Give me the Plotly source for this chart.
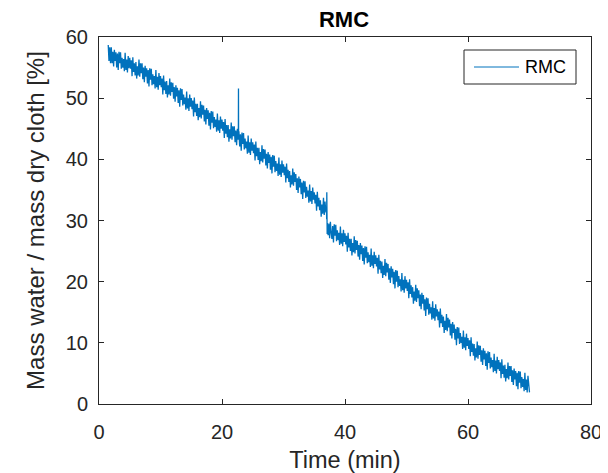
import plotly.graph_objects as go
import pandas as pd

# ---- data ----
t_start = 1.5       # first sample time (min)
t_step = 0.125      # sample spacing (min)

rmc_values = [
    58.7, 56.1, 58.3, 55.7,                            # 1.5
    58.3, 55.7, 57.6, 55.2, 57.9, 56.1, 57.5, 55.0,    # 2
    57.3, 54.6, 57.6, 55.7, 57.5, 54.8, 56.6, 55.0,    # 3
    56.4, 54.4, 57.4, 54.6, 56.3, 54.2, 56.9, 54.9,    # 4
    56.6, 54.8, 56.2, 53.6, 56.7, 54.3, 55.7, 53.7,    # 5
    55.9, 53.2, 55.2, 53.7, 56.3, 53.5, 55.7, 54.1,    # 6
    55.7, 53.1, 55.0, 52.6, 55.3, 53.5, 54.9, 52.4,    # 7
    54.6, 51.9, 54.9, 53.0, 54.8, 52.1, 53.9, 52.3,    # 8
    53.6, 51.6, 54.6, 51.8, 53.5, 51.4, 54.1, 52.1,    # 9
    53.6, 51.8, 53.2, 50.6, 53.7, 51.3, 52.7, 50.7,    # 10
    52.8, 50.1, 52.1, 50.6, 53.2, 50.4, 52.6, 51.0,    # 11
    52.5, 49.9, 51.8, 49.4, 52.1, 50.3, 51.7, 49.2,    # 12
    51.3, 48.6, 51.6, 49.7, 51.5, 48.8, 50.6, 49.0,    # 13
    50.1, 48.1, 51.1, 48.3, 50.0, 47.9, 50.6, 48.6,    # 14
    50.0, 48.2, 49.6, 47.0, 50.1, 47.7, 49.1, 47.1,    # 15
    49.1, 46.4, 48.4, 46.9, 49.5, 46.7, 48.9, 47.3,    # 16
    48.8, 46.2, 48.1, 45.7, 48.4, 46.6, 48.0, 45.5,    # 17
    47.6, 44.9, 47.9, 46.0, 47.8, 45.1, 46.9, 45.3,    # 18
    46.5, 44.5, 47.5, 44.7, 46.4, 44.3, 47.0, 45.0,    # 19
    46.5, 44.7, 46.1, 43.5, 46.6, 44.2, 45.6, 43.6,    # 20
    45.6, 42.9, 44.9, 43.4, 46.0, 43.2, 45.4, 43.8,    # 21
    45.4, 42.8, 44.7, 42.3, 45.0, 43.2, 44.6, 42.1,    # 22
    44.1, 41.4, 44.4, 42.5, 44.3, 41.6, 43.4, 41.8,    # 23
    42.9, 40.9, 43.9, 41.1, 42.8, 40.7, 43.4, 41.4,    # 24
    42.8, 41.0, 42.4, 39.8, 42.9, 40.5, 41.9, 39.9,    # 25
    41.9, 39.2, 41.2, 39.7, 42.3, 39.5, 41.7, 40.1,    # 26
    41.6, 39.0, 40.9, 38.5, 41.2, 39.4, 40.8, 38.3,    # 27
    40.4, 37.7, 40.7, 38.8, 40.6, 37.9, 39.7, 38.1,    # 28
    39.3, 37.3, 40.3, 37.5, 39.2, 37.1, 39.8, 37.8,    # 29
    39.2, 37.4, 38.8, 36.2, 39.3, 36.9, 38.3, 36.3,    # 30
    38.1, 35.4, 37.4, 35.9, 38.5, 35.7, 37.9, 36.3,    # 31
    37.6, 35.0, 36.9, 34.5, 37.2, 35.4, 36.8, 34.3,    # 32
    36.2, 33.5, 36.5, 34.6, 36.4, 33.7, 35.5, 33.9,    # 33
    34.9, 32.9, 35.9, 33.1, 34.8, 32.7, 35.4, 33.4,    # 34
    34.6, 32.8, 34.2, 31.6, 34.7, 32.3, 33.7, 31.7,    # 35
    33.3, 30.6, 32.6, 31.1, 33.7, 30.9, 33.1, 31.5,    # 36
    31.2, 29.6, 27.6, 29.5, 27.1, 29.8, 28.0, 27.0,    # 37
    29.1, 26.4, 29.4, 27.5, 29.3, 26.6, 28.4, 26.8,    # 38
    28.0, 26.0, 29.0, 26.2, 27.9, 25.8, 28.5, 26.5,    # 39
    27.9, 26.1, 27.5, 24.9, 28.0, 25.6, 27.0, 25.0,    # 40
    27.0, 24.3, 26.3, 24.8, 27.4, 24.6, 26.8, 25.2,    # 41
    26.7, 24.1, 26.0, 23.6, 26.3, 24.5, 25.9, 23.4,    # 42
    25.5, 22.8, 25.8, 23.9, 25.7, 23.0, 24.8, 23.2,    # 43
    24.4, 22.4, 25.4, 22.6, 24.3, 22.2, 24.9, 22.9,    # 44
    24.3, 22.5, 23.9, 21.3, 24.4, 22.0, 23.4, 21.4,    # 45
    23.3, 20.6, 22.6, 21.1, 23.7, 20.9, 23.1, 21.5,    # 46
    22.9, 20.3, 22.2, 19.8, 22.5, 20.7, 22.1, 19.6,    # 47
    21.6, 18.9, 21.9, 20.0, 21.8, 19.1, 20.9, 19.3,    # 48
    20.4, 18.4, 21.4, 18.6, 20.3, 18.2, 20.9, 18.9,    # 49
    20.3, 18.5, 19.9, 17.3, 20.4, 18.0, 19.4, 17.4,    # 50
    19.1, 16.4, 18.4, 16.9, 19.5, 16.7, 18.9, 17.3,    # 51
    18.6, 16.0, 17.9, 15.5, 18.2, 16.4, 17.8, 15.3,    # 52
    17.1, 14.4, 17.4, 15.5, 17.3, 14.6, 16.4, 14.8,    # 53
    15.8, 13.8, 16.8, 14.0, 15.7, 13.6, 16.3, 14.3,    # 54
    15.5, 13.7, 15.1, 12.5, 15.6, 13.2, 14.6, 12.6,    # 55
    14.3, 11.6, 13.6, 12.1, 14.7, 11.9, 14.1, 12.5,    # 56
    13.8, 11.2, 13.1, 10.7, 13.4, 11.6, 13.0, 10.5,    # 57
    12.3, 9.6, 12.6, 10.7, 12.5, 9.8, 11.6, 10.0,      # 58
    11.0, 9.0, 12.0, 9.2, 10.9, 8.8, 11.5, 9.5,        # 59
    10.8, 9.0, 10.4, 7.8, 10.9, 8.5, 9.9, 7.9,         # 60
    9.8, 7.1, 9.1, 7.6, 10.2, 7.4, 9.6, 8.0,           # 61
    9.5, 6.9, 8.8, 6.4, 9.1, 7.3, 8.7, 6.2,            # 62
    8.3, 5.6, 8.6, 6.7, 8.5, 5.8, 7.6, 6.0,            # 63
    7.2, 5.2, 8.2, 5.4, 7.1, 5.0, 7.7, 5.7,            # 64
    7.2, 5.4, 6.8, 4.2, 7.3, 4.9, 6.3, 4.3,            # 65
    6.4, 3.7, 5.7, 4.2, 6.8, 4.0, 6.2, 4.6,            # 66
    6.2, 3.6, 5.5, 3.1, 5.8, 4.0, 5.4, 2.9,            # 67
    5.1, 2.4, 5.4, 3.5, 5.3, 2.6, 4.4, 2.8,            # 68
    4.1, 2.1, 5.1, 2.3, 4.0, 1.9, 4.6, 2.4,            # 69
    1.9,                                               # 70
]

# short events: spike at ~22.7 min, spike + step at ~37 min
event_times = [22.66, 22.68, 22.70, 37.02, 37.04, 37.06, 37.08, 37.10]
event_values = [43.8, 51.6, 44.2, 30.2, 34.6, 30.6, 33.2, 27.8]

x_ticks = [0, 20, 40, 60, 80]
y_ticks = [0, 10, 20, 30, 40, 50, 60]

# ---- build series ----
base = pd.DataFrame({
    "t": [t_start + i * t_step for i in range(len(rmc_values))],
    "v": rmc_values,
})
events = pd.DataFrame({"t": event_times, "v": event_values})
df = pd.concat([base, events]).sort_values("t").reset_index(drop=True)

FONT = "Liberation Sans, Arial, Helvetica, sans-serif"
AX = "#262626"
BLUE = "#0072BD"

# the page body adds an 8 px margin, so the figure is 8 px smaller and
# every target pixel position is shifted by -8
OFF = 8
W, H = 608 - OFF, 473 - OFF
L, R, T, B = 99 - OFF, 591 - OFF, 37 - OFF, 404 - OFF
pw, ph = R - L, B - T


def px_x(p):
    return (p - OFF - L) / pw


def px_y(p):
    return (B - (p - OFF)) / ph


fig = go.Figure()
fig.add_trace(go.Scatter(
    x=df["t"], y=df["v"], mode="lines", name="RMC",
    line=dict(color=BLUE, width=1.3), showlegend=False,
))

axis_common = dict(
    showline=True, linecolor=AX, linewidth=1, mirror="allticks",
    ticks="inside", ticklen=5, tickwidth=1, tickcolor=AX,
    showgrid=False, zeroline=False, automargin=False,
    tickfont=dict(family=FONT, size=20, color=AX),
)

fig.update_layout(
    width=W, height=H,
    margin=dict(l=L, r=W - R, t=T, b=H - B, autoexpand=False),
    paper_bgcolor="white", plot_bgcolor="white",
    title=dict(text="<b>RMC</b>", x=(344 - OFF) / W, xanchor="center",
               y=1 - (19 - OFF) / H, yanchor="middle", yref="container",
               font=dict(family=FONT, size=22, color="black")),
    xaxis=dict(range=[0, 80], tickvals=x_ticks, **axis_common,
               title=dict(text="Time (min)", standoff=10,
                          font=dict(family=FONT, size=23.5, color=AX)),
               ticklabelstandoff=10),
    yaxis=dict(range=[0, 60], tickvals=y_ticks, **axis_common,
               title=dict(text="Mass water / mass dry cloth [%]", standoff=14,
                          font=dict(family=FONT, size=24, color=AX)),
               ticklabelstandoff=6),
    showlegend=False,
)

# legend box drawn in the MATLAB style
fig.add_shape(type="rect", xref="paper", yref="paper",
              x0=px_x(464), x1=px_x(576), y0=px_y(84), y1=px_y(50),
              line=dict(color=AX, width=1), fillcolor="white", layer="above")
fig.add_shape(type="line", xref="paper", yref="paper",
              x0=px_x(474), x1=px_x(519), y0=px_y(67), y1=px_y(67),
              line=dict(color=BLUE, width=1), layer="above")
fig.add_annotation(text="RMC", xref="paper", yref="paper",
                   x=px_x(523), y=px_y(67), xanchor="left", yanchor="middle",
                   showarrow=False,
                   font=dict(family=FONT, size=18, color="black"))

fig.write_html("out.html")
